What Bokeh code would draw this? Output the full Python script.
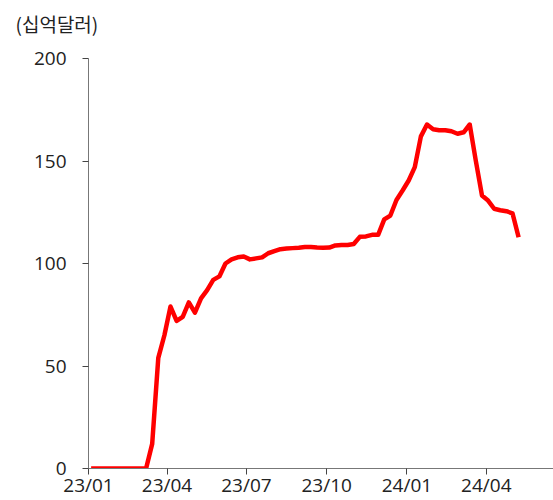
import pandas as pd
from bokeh.plotting import figure
from bokeh.models import FixedTicker, DatetimeTickFormatter, Range1d, Title
from bokeh.embed import file_html
from bokeh.resources import INLINE

# weekly observations starting 2023-01-04
start_date = "2023-01-04"
values = [0, 0, 0, 0, 0, 0, 0, 0, 0, 0,
          12, 54, 65, 79, 72, 74, 81, 76, 83, 87,
          92, 93.7, 100, 102, 103, 103.4, 102, 102.5, 103, 105,
          106, 107, 107.3, 107.5, 107.7, 108, 108, 107.8, 107.7, 107.8,
          108.8, 109, 109, 109.5, 113, 113.2, 114, 114, 121.5, 123.4,
          131, 135.6, 140.5, 147, 162, 167.8, 165.5, 165, 165, 164.5,
          163.3, 164, 167.8, 150, 133.2, 130.7, 126.7, 126, 125.5, 124.5,
          112.8]
tick_dates = ["2023-01-01", "2023-04-01", "2023-07-01", "2023-10-01", "2024-01-01", "2024-04-01"]
y_ticks = [0, 50, 100, 150, 200]
unit_label = "(십억달러)"

dates = pd.date_range(start_date, periods=len(values), freq="7D")

FONT = "Open Sans"
KFONT = "Noto Sans CJK KR"

p = figure(width=553, height=500, x_axis_type="datetime",
           output_backend="svg", toolbar_location=None,
           x_range=Range1d(pd.Timestamp("2023-01-01"), pd.Timestamp("2024-06-17")),
           y_range=Range1d(0, 200),
           min_border_left=88, min_border_right=0, min_border_top=58, min_border_bottom=0)
p.outline_line_color = None
p.grid.grid_line_color = None
p.background_fill_color = "white"
p.border_fill_color = "white"

# unit label on top, with a small spacer title between it and the frame
p.title = Title(text=unit_label, text_font=KFONT, text_font_size="19px",
                text_font_style="normal", text_color="#222222",
                align="left", offset=-73)
p.add_layout(Title(text=" ", text_font=FONT, text_font_size="11px", standoff=0), "above")

p.line(dates, values, line_color="#FF0000", line_width=4.5, line_join="round")

tick_ms = [pd.Timestamp(d).value / 1e6 for d in tick_dates]
p.xaxis.ticker = FixedTicker(ticks=tick_ms)
fmt = "%y/%m"
p.xaxis.formatter = DatetimeTickFormatter(
    microseconds=fmt, milliseconds=fmt, seconds=fmt, minsec=fmt, minutes=fmt,
    hourmin=fmt, hours=fmt, days=fmt, months=fmt, years=fmt)
p.yaxis.ticker = FixedTicker(ticks=y_ticks)

for ax in (p.xaxis, p.yaxis):
    ax.axis_line_color = "#777777"
    ax.axis_line_width = 1
    ax.major_tick_line_color = "#444444"
    ax.major_tick_in = 0
    ax.major_tick_out = 6
    ax.minor_tick_line_color = None
    ax.major_label_text_font = FONT
    ax.major_label_text_font_size = "19px"
    ax.major_label_text_color = "#222222"

p.yaxis.major_label_standoff = 16
p.xaxis.major_label_standoff = -3

open("out.html", "w").write(file_html(p, INLINE))
